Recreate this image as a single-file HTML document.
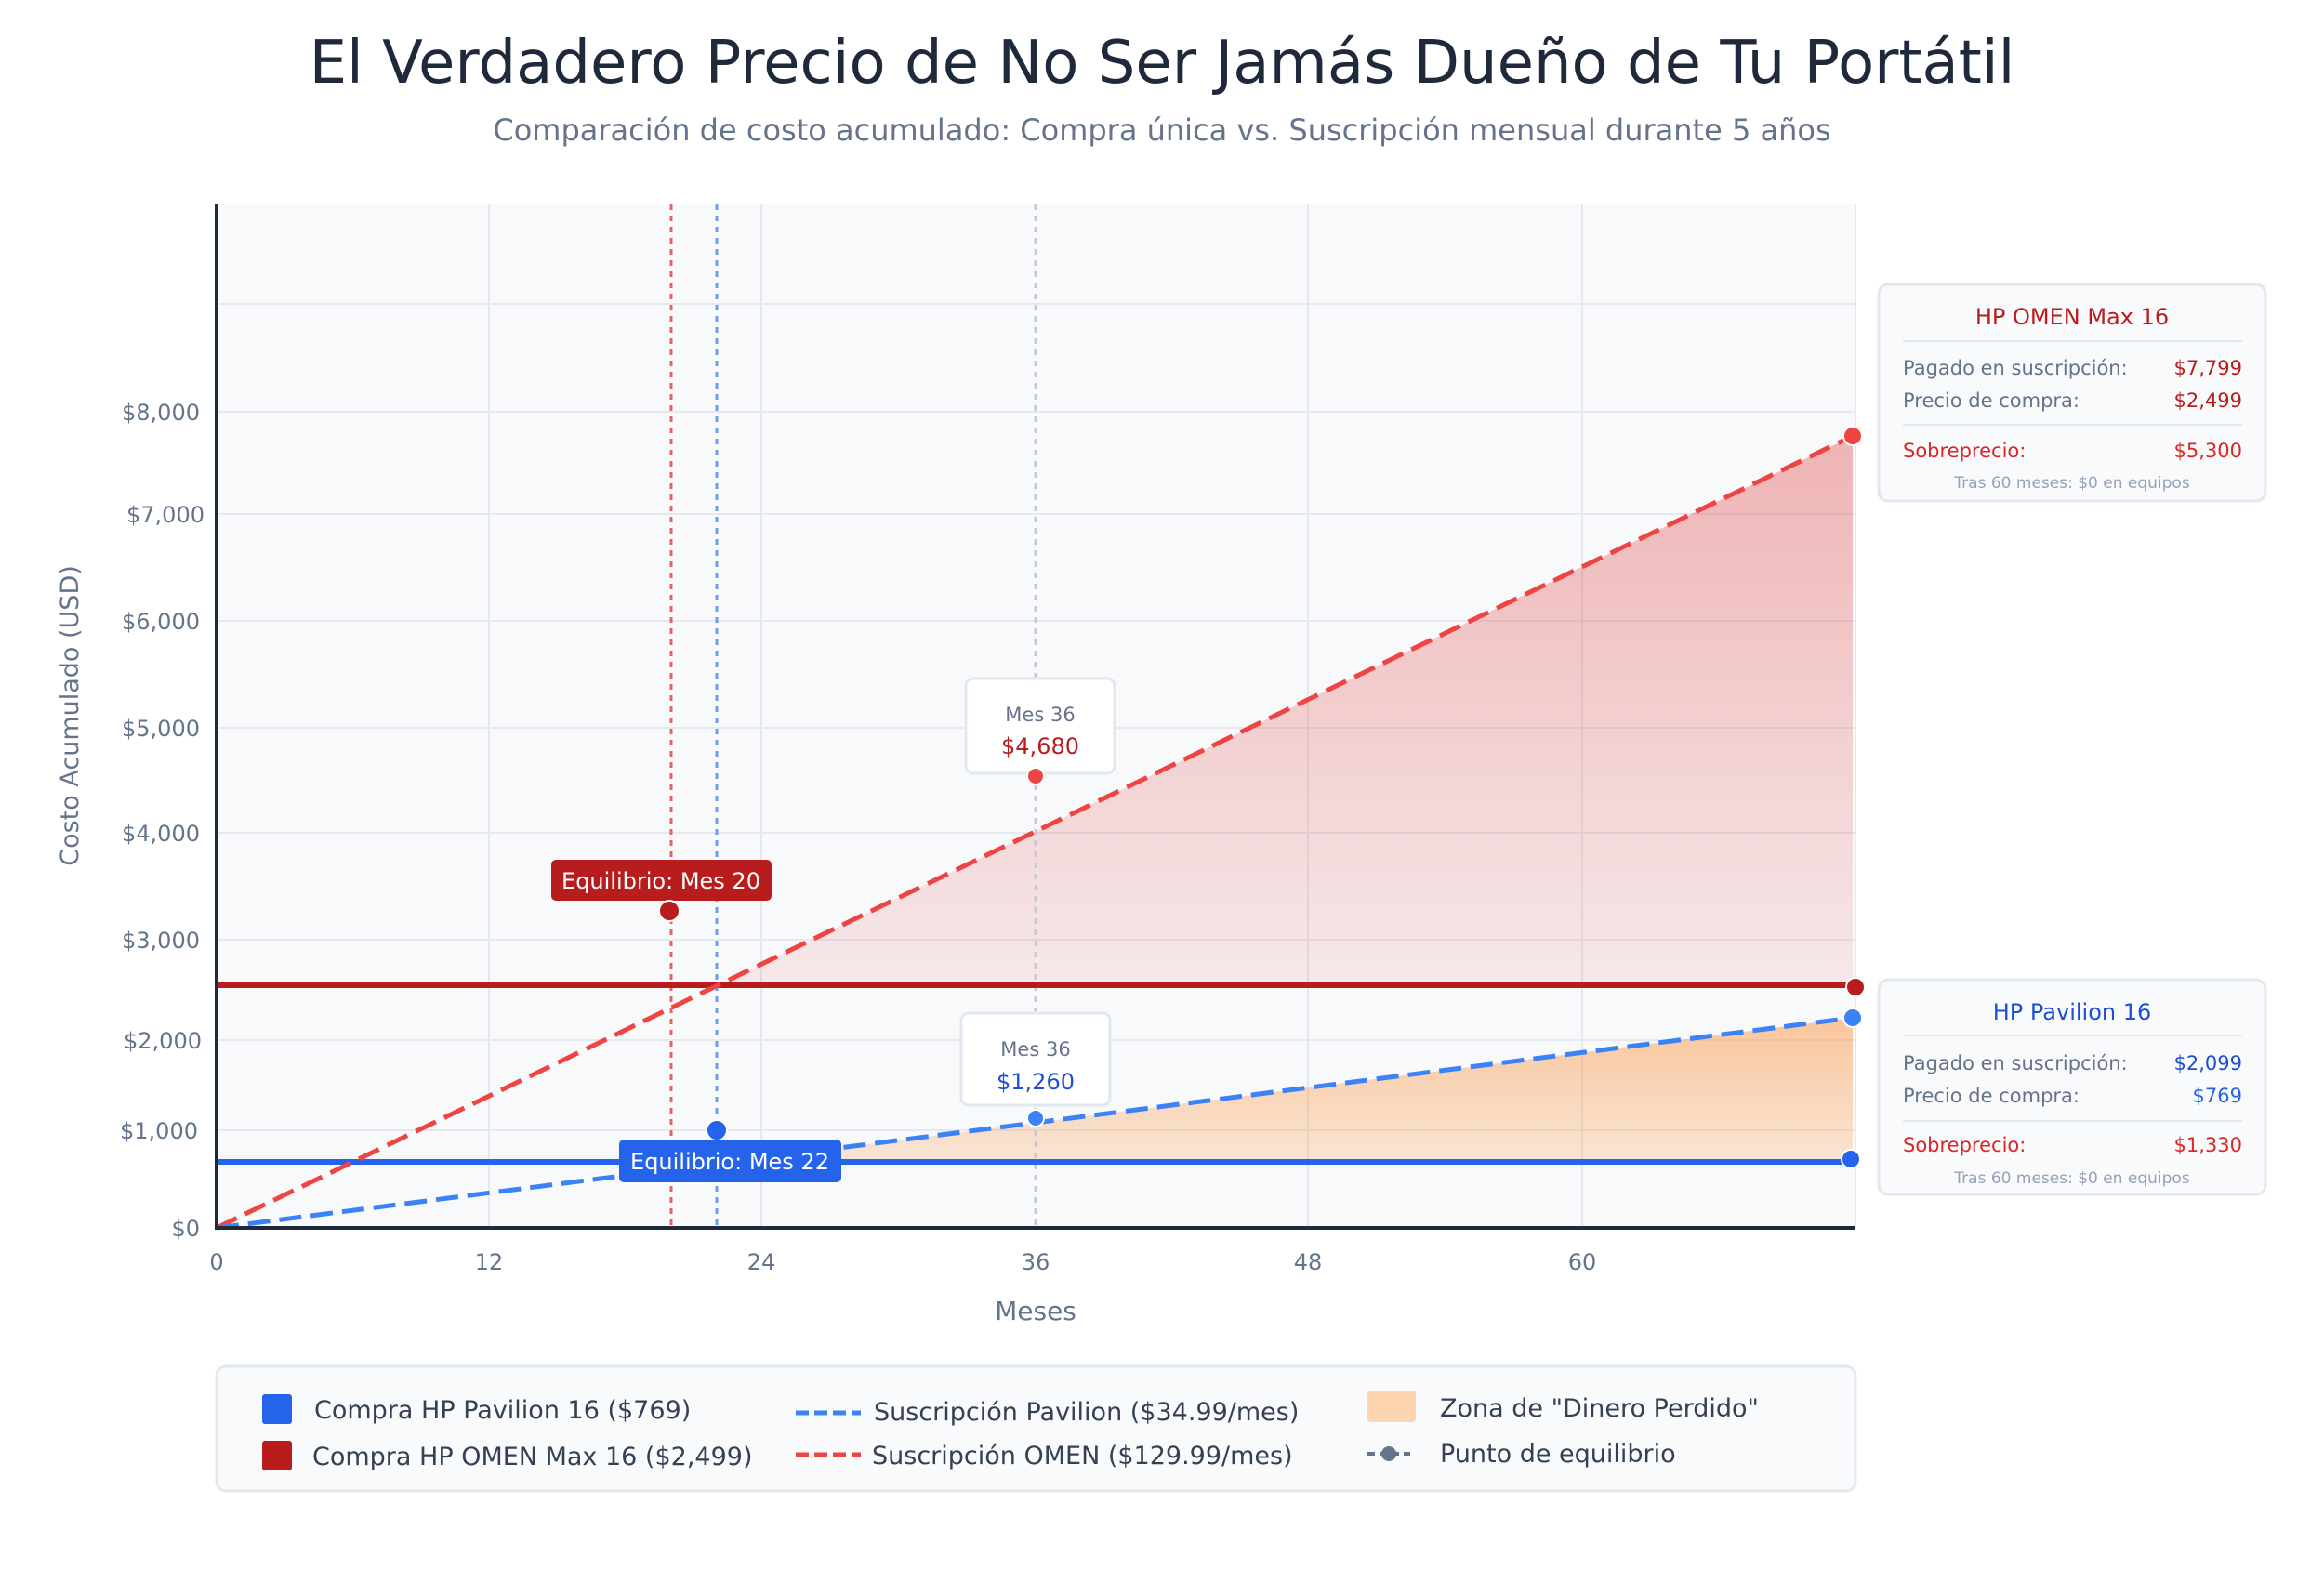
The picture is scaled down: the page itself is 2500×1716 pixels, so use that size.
<!DOCTYPE html>
<html><head><meta charset="utf-8"><style>
html,body{margin:0;padding:0;background:#fff;}
svg{display:block;font-family:"DejaVu Sans","Liberation Sans",sans-serif;}
</style></head><body>
<svg width="2500" height="1716" viewBox="0 0 2500 1716" xmlns="http://www.w3.org/2000/svg">
<defs>
<linearGradient id="rg" x1="0" y1="469" x2="0" y2="1060" gradientUnits="userSpaceOnUse">
<stop offset="0" stop-color="#dc2626" stop-opacity="0.33"/><stop offset="1" stop-color="#dc2626" stop-opacity="0.08"/></linearGradient>
<linearGradient id="og" x1="0" y1="1095" x2="0" y2="1250" gradientUnits="userSpaceOnUse">
<stop offset="0" stop-color="#fb923c" stop-opacity="0.5"/><stop offset="1" stop-color="#fb923c" stop-opacity="0.2"/></linearGradient>
</defs>
<text x="1250" y="89" text-anchor="middle" font-size="64" fill="#1e293b">El Verdadero Precio de No Ser Jamás Dueño de Tu Portátil</text>
<text x="1250" y="151" text-anchor="middle" font-size="32" fill="#64748b">Comparación de costo acumulado: Compra única vs. Suscripción mensual durante 5 años</text>

<rect x="233" y="220" width="1763" height="1101" fill="#f8f9fa"/>
<g stroke="#e5e8ef" stroke-width="2">
<line x1="233" y1="327" x2="1996" y2="327"/><line x1="233" y1="443" x2="1996" y2="443"/>
<line x1="233" y1="553" x2="1996" y2="553"/><line x1="233" y1="668" x2="1996" y2="668"/>
<line x1="233" y1="783" x2="1996" y2="783"/><line x1="233" y1="896" x2="1996" y2="896"/>
<line x1="233" y1="1011" x2="1996" y2="1011"/><line x1="233" y1="1119" x2="1996" y2="1119"/>
<line x1="233" y1="1216" x2="1996" y2="1216"/>
<line x1="526" y1="220" x2="526" y2="1321"/><line x1="819" y1="220" x2="819" y2="1321"/>
<line x1="1407" y1="220" x2="1407" y2="1321"/><line x1="1702" y1="220" x2="1702" y2="1321"/>
<line x1="1996" y1="220" x2="1996" y2="1321"/>
</g>
<polygon points="772,1060 1993,469 1993,1060" fill="url(#rg)"/>
<polygon points="786,1250 1993,1095 1993,1250" fill="url(#og)"/>
<line x1="722" y1="220" x2="722" y2="1321" stroke="#e06666" stroke-width="3" stroke-dasharray="6,6"/>
<line x1="771" y1="220" x2="771" y2="1321" stroke="#6b9cf5" stroke-width="3" stroke-dasharray="6,6"/>
<line x1="1114" y1="220" x2="1114" y2="1321" stroke="#c5cad3" stroke-width="3" stroke-dasharray="6,6"/>
<line x1="233" y1="1060" x2="1996" y2="1060" stroke="#b91c1c" stroke-width="6"/>
<line x1="233" y1="1250" x2="1996" y2="1250" stroke="#2563eb" stroke-width="6"/>
<line x1="233" y1="1321" x2="1993" y2="469" stroke="#ef4444" stroke-width="5" stroke-dasharray="24,10"/>
<line x1="233" y1="1321" x2="1993" y2="1095" stroke="#3b82f6" stroke-width="5" stroke-dasharray="24,10"/>
<line x1="233" y1="220" x2="233" y2="1323" stroke="#1e293b" stroke-width="4"/>
<line x1="231" y1="1321" x2="1996" y2="1321" stroke="#1e293b" stroke-width="4"/>

<g font-size="24" fill="#64748b" text-anchor="end">
<text x="215" y="452">$8,000</text><text x="220" y="562">$7,000</text><text x="215" y="677">$6,000</text>
<text x="215" y="792">$5,000</text><text x="215" y="905">$4,000</text><text x="215" y="1020">$3,000</text>
<text x="217" y="1128">$2,000</text><text x="213" y="1225">$1,000</text><text x="215" y="1330">$0</text>
</g>
<g font-size="24" fill="#64748b" text-anchor="middle">
<text x="233" y="1366">0</text><text x="526" y="1366">12</text><text x="819" y="1366">24</text>
<text x="1114" y="1366">36</text><text x="1407" y="1366">48</text><text x="1702" y="1366">60</text>
</g>
<text x="1114" y="1420" text-anchor="middle" font-size="28" fill="#64748b">Meses</text>
<text transform="translate(84,770) rotate(-90)" text-anchor="middle" font-size="27" fill="#64748b">Costo Acumulado (USD)</text>

<rect x="593" y="925" width="237" height="44" rx="5" fill="#b91c1c"/>
<text x="711" y="956" text-anchor="middle" font-size="24" fill="#fff">Equilibrio: Mes 20</text>
<circle cx="720" cy="980" r="11" fill="#b91c1c" stroke="#fff" stroke-width="2"/>
<circle cx="771" cy="1216" r="11" fill="#2563eb" stroke="#fff" stroke-width="2"/>
<rect x="666" y="1226" width="239" height="46" rx="5" fill="#2563eb"/>
<text x="785" y="1258" text-anchor="middle" font-size="24" fill="#fff">Equilibrio: Mes 22</text>

<rect x="1039" y="730" width="160" height="102" rx="8" fill="#fff" stroke="#e2e8f0" stroke-width="3"/>
<text x="1119" y="776" text-anchor="middle" font-size="21" fill="#64748b">Mes 36</text>
<text x="1119" y="811" text-anchor="middle" font-size="24" fill="#b91c1c">$4,680</text>
<circle cx="1114" cy="835" r="9" fill="#ef4444" stroke="#fff" stroke-width="2"/>
<rect x="1034" y="1090" width="160" height="99" rx="8" fill="#fff" stroke="#e2e8f0" stroke-width="3"/>
<text x="1114" y="1136" text-anchor="middle" font-size="21" fill="#64748b">Mes 36</text>
<text x="1114" y="1172" text-anchor="middle" font-size="24" fill="#1d4ed8">$1,260</text>
<circle cx="1114" cy="1203" r="9" fill="#3b82f6" stroke="#fff" stroke-width="2"/>

<circle cx="1993" cy="469" r="10" fill="#ef4444" stroke="#fff" stroke-width="2"/>
<circle cx="1996" cy="1062" r="10" fill="#b91c1c" stroke="#fff" stroke-width="2"/>
<circle cx="1993" cy="1095" r="10" fill="#3b82f6" stroke="#fff" stroke-width="2"/>
<circle cx="1991" cy="1247" r="10" fill="#2563eb" stroke="#fff" stroke-width="2"/>

<g font-size="21">
<rect x="2021" y="306" width="416" height="233" rx="10" fill="#f8fafc" stroke="#e2e8f0" stroke-width="3"/>
<text x="2229" y="349" text-anchor="middle" font-size="24" fill="#b91c1c">HP OMEN Max 16</text>
<line x1="2047" y1="367" x2="2412" y2="367" stroke="#e2e8f0" stroke-width="2"/>
<text x="2047" y="403" fill="#64748b">Pagado en suscripción:</text><text x="2412" y="403" text-anchor="end" fill="#b91c1c">$7,799</text>
<text x="2047" y="438" fill="#64748b">Precio de compra:</text><text x="2412" y="438" text-anchor="end" fill="#b91c1c">$2,499</text>
<line x1="2047" y1="457" x2="2412" y2="457" stroke="#e2e8f0" stroke-width="2"/>
<text x="2047" y="492" fill="#dc2626">Sobreprecio:</text><text x="2412" y="492" text-anchor="end" fill="#dc2626">$5,300</text>
<text x="2229" y="525" text-anchor="middle" font-size="17" fill="#94a3b8">Tras 60 meses: $0 en equipos</text>

<rect x="2021" y="1054" width="416" height="231" rx="10" fill="#f8fafc" stroke="#e2e8f0" stroke-width="3"/>
<text x="2229" y="1097" text-anchor="middle" font-size="24" fill="#1d4ed8">HP Pavilion 16</text>
<line x1="2047" y1="1114" x2="2412" y2="1114" stroke="#e2e8f0" stroke-width="2"/>
<text x="2047" y="1151" fill="#64748b">Pagado en suscripción:</text><text x="2412" y="1151" text-anchor="end" fill="#1d4ed8">$2,099</text>
<text x="2047" y="1186" fill="#64748b">Precio de compra:</text><text x="2412" y="1186" text-anchor="end" fill="#2563eb">$769</text>
<line x1="2047" y1="1206" x2="2412" y2="1206" stroke="#e2e8f0" stroke-width="2"/>
<text x="2047" y="1239" fill="#dc2626">Sobreprecio:</text><text x="2412" y="1239" text-anchor="end" fill="#dc2626">$1,330</text>
<text x="2229" y="1273" text-anchor="middle" font-size="17" fill="#94a3b8">Tras 60 meses: $0 en equipos</text>
</g>

<rect x="233" y="1470" width="1763" height="134" rx="10" fill="#f8fafc" stroke="#e2e8f0" stroke-width="3"/>
<g font-size="27" fill="#334155">
<rect x="282" y="1500" width="32" height="32" rx="3" fill="#2563eb"/>
<text x="338" y="1526">Compra HP Pavilion 16 ($769)</text>
<rect x="282" y="1550" width="32" height="32" rx="3" fill="#b91c1c"/>
<text x="336" y="1576">Compra HP OMEN Max 16 ($2,499)</text>
<line x1="856" y1="1520" x2="926" y2="1520" stroke="#3b82f6" stroke-width="5" stroke-dasharray="14,6"/>
<text x="940" y="1528">Suscripción Pavilion ($34.99/mes)</text>
<line x1="856" y1="1565" x2="926" y2="1565" stroke="#ef4444" stroke-width="5" stroke-dasharray="14,6"/>
<text x="938" y="1575">Suscripción OMEN ($129.99/mes)</text>
<rect x="1471" y="1496" width="52" height="34" rx="4" fill="#fdd5b1"/>
<text x="1549" y="1524">Zona de "Dinero Perdido"</text>
<line x1="1471" y1="1564" x2="1517" y2="1564" stroke="#64748b" stroke-width="4" stroke-dasharray="8,5"/>
<circle cx="1494" cy="1564" r="8" fill="#64748b"/>
<text x="1549" y="1573">Punto de equilibrio</text>
</g>
</svg>
</body></html>
